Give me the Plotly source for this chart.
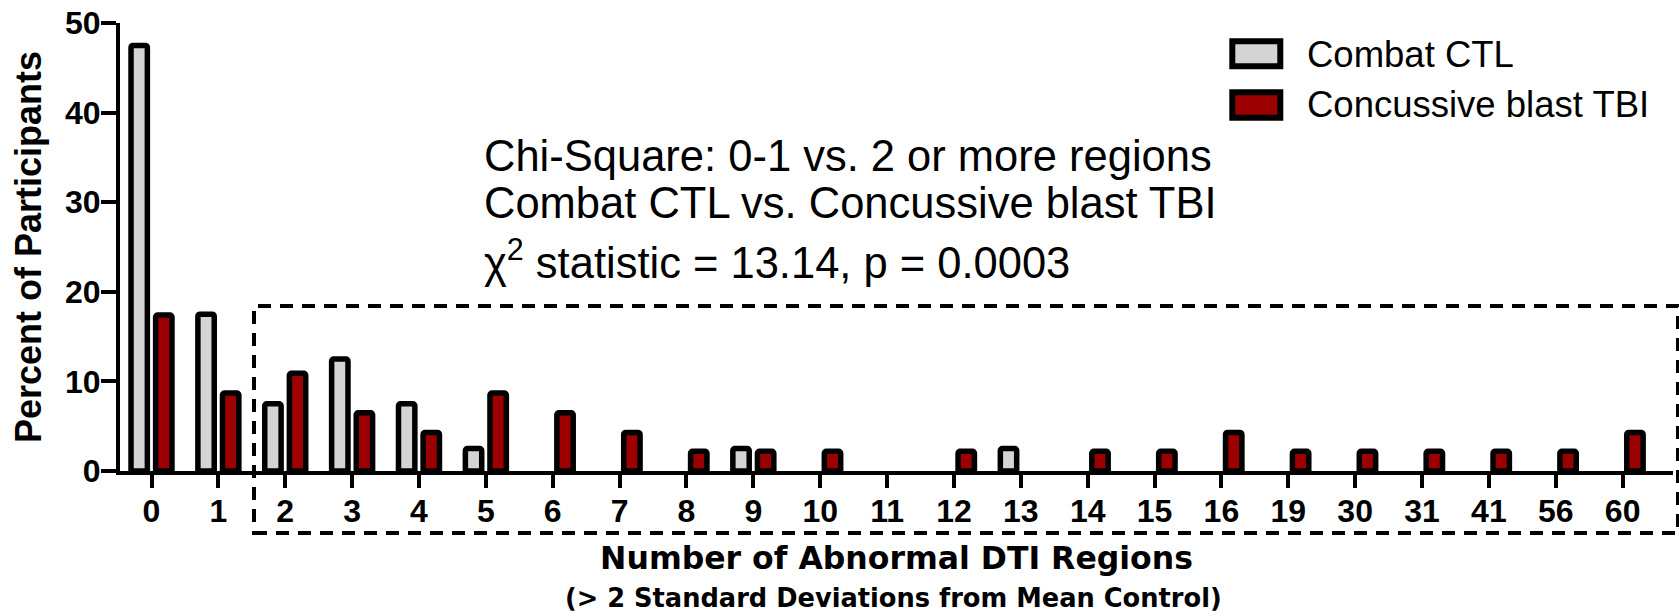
import plotly.graph_objects as go

# ---- data ----
categories = ["0", "1", "2", "3", "4", "5", "6", "7", "8", "9", "10", "11",
              "12", "13", "14", "15", "16", "19", "30", "31", "41", "56", "60"]
combat_ctl = [47.5, 17.5, 7.5, 12.5, 7.5, 2.5, 0, 0, 0, 2.5, 0, 0,
              0, 2.5, 0, 0, 0, 0, 0, 0, 0, 0, 0]
blast_tbi = [17.4, 8.7, 10.9, 6.5, 4.3, 8.7, 6.5, 4.3, 2.2, 2.2, 2.2, 0,
             2.2, 0, 2.2, 2.2, 4.3, 2.2, 2.2, 2.2, 2.2, 2.2, 4.3]
series_names = ["Combat CTL", "Concussive blast TBI"]
series_colors = ["#D4D4D4", "#9C0000"]
y_ticks = [0, 10, 20, 30, 40, 50]
stats_lines = ["Chi-Square: 0-1 vs. 2 or more regions",
               "Combat CTL vs. Concussive blast TBI",
               "\u03c7<sup>2</sup> statistic = 13.14, p = 0.0003"]

SANS = "Liberation Sans, Arial, sans-serif"
WIDE = "DejaVu Sans, Verdana, sans-serif"


def nz(vals):
    return [v if v else None for v in vals]


fig = go.Figure()
for name, vals, col in zip(series_names, [combat_ctl, blast_tbi], series_colors):
    fig.add_trace(go.Bar(
        x=categories, y=nz(vals), name=name,
        marker=dict(color=col, line=dict(color="black", width=5.5), cornerradius=2),
        showlegend=False,
    ))

# plot-area geometry (pixels) used to convert decorations to paper coords
L, R, T, B = 120, 6, 23, 145
W, H = 1679, 616
PW, PH = W - L - R, H - T - B


def px(x):
    return (x - L) / PW


def py(y):
    return (H - B - y) / PH


shapes = []
annotations = []

# dashed box around 2+ regions
shapes.append(dict(type="rect", xref="paper", yref="paper",
                   x0=px(254), x1=px(1678), y0=py(533), y1=py(306),
                   line=dict(color="black", width=4, dash="13px,9px")))

# manual legend
leg_rows = [(41.3, 66.3, 54), (92.3, 117.7, 104.5)]
for (ytop, ybot, ymid), name, col in zip(leg_rows, series_names, series_colors):
    shapes.append(dict(type="rect", xref="paper", yref="paper",
                       x0=px(1232.3), x1=px(1280.3), y0=py(ybot), y1=py(ytop),
                       fillcolor=col, line=dict(color="black", width=6)))
    annotations.append(dict(text=name, xref="paper", yref="paper",
                            x=px(1306), y=py(ymid), xanchor="left", yanchor="middle",
                            showarrow=False, borderpad=0,
                            font=dict(family=SANS, size=36.5, color="black")))

# statistics text
for txt, ymid in zip(stats_lines, [156, 203, 259]):
    annotations.append(dict(text=txt, xref="paper", yref="paper",
                            x=px(483), y=py(ymid), xanchor="left", yanchor="middle",
                            showarrow=False, borderpad=0,
                            font=dict(family=SANS, size=43.5, color="black")))

# subtitle under x-axis title
annotations.append(dict(text="(> 2 Standard Deviations from Mean Control)",
                        xref="paper", yref="paper", x=px(893), y=py(598),
                        xanchor="center", yanchor="middle", showarrow=False, borderpad=0,
                        font=dict(family=WIDE, size=25.7, color="black", weight="bold")))

fig.update_layout(
    width=W, height=H,
    margin=dict(l=L, r=R, t=T, b=B, autoexpand=False),
    paper_bgcolor="white", plot_bgcolor="white",
    barmode="group", bargap=0.264, bargroupgap=0.335,
    shapes=shapes, annotations=annotations,
    font=dict(family=SANS, color="black"),
)
fig.update_xaxes(
    type="category", range=[-0.471, 22.753],
    showline=True, linecolor="black", linewidth=4,
    ticks="outside", ticklen=13, tickwidth=4, tickcolor="black",
    tickfont=dict(family=SANS, size=32, color="black", weight="bold"),
    ticklabelstandoff=-4,
    showgrid=False, zeroline=False,
    title=dict(text="Number of Abnormal DTI Regions", standoff=20,
               font=dict(family=WIDE, size=31.5, color="black", weight="bold")),
)
fig.update_yaxes(
    range=[0, 50], tickvals=y_ticks,
    showline=True, linecolor="black", linewidth=4,
    ticks="outside", ticklen=15, tickwidth=4, tickcolor="black",
    tickfont=dict(family=SANS, size=32, color="black", weight="bold"),
    ticklabelstandoff=-6,
    showgrid=False, zeroline=False,
    title=dict(text="Percent of Participants", standoff=13,
               font=dict(family=SANS, size=36, color="black", weight="bold")),
)

fig.write_html("out.html", config={"displayModeBar": False},
               post_script="document.body.style.margin='0';")
